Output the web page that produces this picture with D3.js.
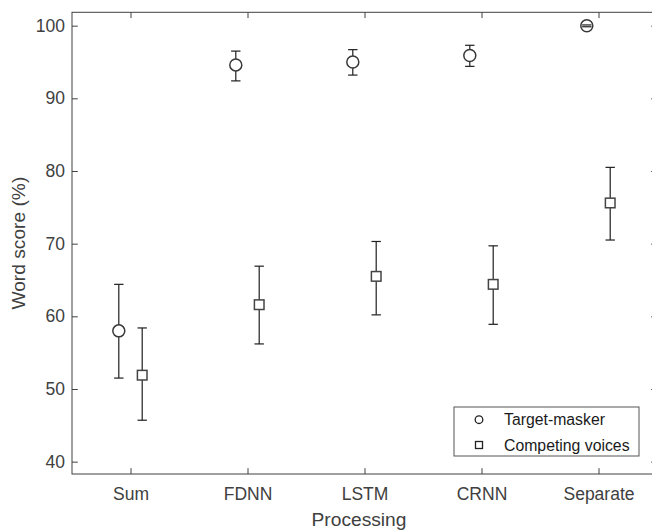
<!DOCTYPE html>
<html>
<head>
<meta charset="utf-8">
<script src="https://cdn.jsdelivr.net/npm/d3@7/dist/d3.min.js"></script>
<style>
body { margin: 0; background: #fff; }
svg { display: block; font-family: "Liberation Sans", Arial, sans-serif; }
</style>
</head>
<body>
<svg id="chart" width="652" height="530"></svg>
<script>
// values
var categories = ["Sum", "FDNN", "LSTM", "CRNN", "Separate"];
var seriesNames = ["Target-masker", "Competing voices"];

var targetMean = [58.0, 94.6, 95.0, 95.9, 100.0];
var targetLow = [51.5, 92.4, 93.2, 94.4, 99.85];
var targetHigh = [64.4, 96.5, 96.7, 97.3, 100.1];

var competingMean = [51.9, 61.6, 65.5, 64.4, 75.6];
var competingLow = [45.7, 56.2, 60.2, 58.9, 70.5];
var competingHigh = [58.4, 66.9, 70.3, 69.7, 80.5];

var yTicks = [40, 50, 60, 70, 80, 90, 100];

var axisColor = "#404040",
    barColor = "#1f1f1f",
    tickLen = 5.8;

var svg = d3.select("#chart");

// plot box (right edge runs just past the picture)
var box = { left: 72, top: 12.3, right: 657, bottom: 474 };

var x = d3.scaleLinear().domain([0.5, 5.5]).range([box.left, box.right]);
var y = d3.scaleLinear().domain([38.3, 101.84]).range([box.bottom, box.top]);

var series = [
    { name: seriesNames[0], mean: targetMean, low: targetLow, high: targetHigh, shift: -0.1, shape: "circle" },
    { name: seriesNames[1], mean: competingMean, low: competingLow, high: competingHigh, shift: 0.1, shape: "square" }
];

// axes, ticks pointing inward on all four sides
function styleAxis(g) {
    g.select(".domain").remove();
    g.selectAll(".tick line").attr("stroke", axisColor).attr("stroke-width", 1);
    g.selectAll(".tick text").attr("fill", axisColor);
}

var catTicks = categories.map(function (d, i) { return i + 1; });

svg.append("g")
    .attr("transform", "translate(0," + box.bottom + ")")
    .call(d3.axisBottom(x).tickValues(catTicks)
        .tickFormat(function (d) { return categories[d - 1]; })
        .tickSizeInner(-tickLen).tickSizeOuter(0).tickPadding(13.5))
    .call(styleAxis)
    .attr("font-size", 17.5)
    .attr("font-family", null);

svg.append("g")
    .attr("transform", "translate(0," + box.top + ")")
    .call(d3.axisTop(x).tickValues(catTicks).tickFormat("")
        .tickSizeInner(-tickLen).tickSizeOuter(0))
    .call(styleAxis);

svg.append("g")
    .attr("transform", "translate(" + box.left + ",0)")
    .call(d3.axisLeft(y).tickValues(yTicks)
        .tickSizeInner(-tickLen).tickSizeOuter(0).tickPadding(7))
    .call(styleAxis)
    .attr("font-size", 17.5)
    .attr("font-family", null);

svg.append("g")
    .attr("transform", "translate(" + box.right + ",0)")
    .call(d3.axisRight(y).tickValues(yTicks).tickFormat("")
        .tickSizeInner(-tickLen).tickSizeOuter(0))
    .call(styleAxis);

svg.append("rect")
    .attr("x", box.left).attr("y", box.top)
    .attr("width", box.right - box.left).attr("height", box.bottom - box.top)
    .attr("fill", "none").attr("stroke", axisColor).attr("stroke-width", 1);

// axis titles
svg.append("text")
    .attr("x", (box.left + 652) / 2 - 3).attr("y", 526)
    .attr("text-anchor", "middle")
    .attr("font-size", 19.2).attr("fill", axisColor)
    .text("Processing");

svg.append("text")
    .attr("transform", "translate(25," + (box.top + box.bottom) / 2 + ") rotate(-90)")
    .attr("text-anchor", "middle")
    .attr("font-size", 19.2).attr("fill", axisColor)
    .text("Word score (%)");

// error bars: stems under the markers, caps over them
var capHalf = 4.7;

series.forEach(function (s) {
    var g = svg.append("g");
    var idx = d3.range(categories.length);
    var px = function (i) { return x(i + 1 + s.shift); };

    g.selectAll(".stem").data(idx).enter().append("line")
        .attr("x1", px).attr("x2", px)
        .attr("y1", function (i) { return y(s.low[i]); })
        .attr("y2", function (i) { return y(s.high[i]); })
        .attr("stroke", barColor).attr("stroke-width", 1.2);

    if (s.shape === "circle") {
        g.selectAll(".mark").data(idx).enter().append("circle")
            .attr("cx", px)
            .attr("cy", function (i) { return y(s.mean[i]); })
            .attr("r", 6)
            .attr("fill", "#fff").attr("stroke", "#383838").attr("stroke-width", 1.5);
    } else {
        g.selectAll(".mark").data(idx).enter().append("rect")
            .attr("x", function (i) { return px(i) - 4.8; })
            .attr("y", function (i) { return y(s.mean[i]) - 4.8; })
            .attr("width", 9.6).attr("height", 9.6)
            .attr("fill", "#fff").attr("stroke", "#444").attr("stroke-width", 1.5);
    }

    [s.low, s.high].forEach(function (vals) {
        g.selectAll(null).data(idx).enter().append("line")
            .attr("x1", function (i) { return px(i) - capHalf; })
            .attr("x2", function (i) { return px(i) + capHalf; })
            .attr("y1", function (i) { return y(vals[i]); })
            .attr("y2", function (i) { return y(vals[i]); })
            .attr("stroke", barColor).attr("stroke-width", 1.2);
    });
});

// legend
var legend = svg.append("g").attr("transform", "translate(454,407)");
legend.append("rect")
    .attr("width", 185).attr("height", 49)
    .attr("fill", "#fff").attr("stroke", "#555").attr("stroke-width", 1);

series.forEach(function (s, k) {
    var ly = 12.7 + k * 25.3;
    if (s.shape === "circle") {
        legend.append("circle").attr("cx", 25).attr("cy", ly).attr("r", 3.8)
            .attr("fill", "none").attr("stroke", "#222").attr("stroke-width", 1.3);
    } else {
        legend.append("rect").attr("x", 21.5).attr("y", ly - 3.5)
            .attr("width", 7).attr("height", 7)
            .attr("fill", "none").attr("stroke", "#222").attr("stroke-width", 1.3);
    }
    legend.append("text")
        .attr("x", 50).attr("y", ly).attr("dy", "0.36em")
        .attr("font-size", 15.8).attr("fill", "#1a1a1a")
        .text(s.name);
});
</script>
</body>
</html>
